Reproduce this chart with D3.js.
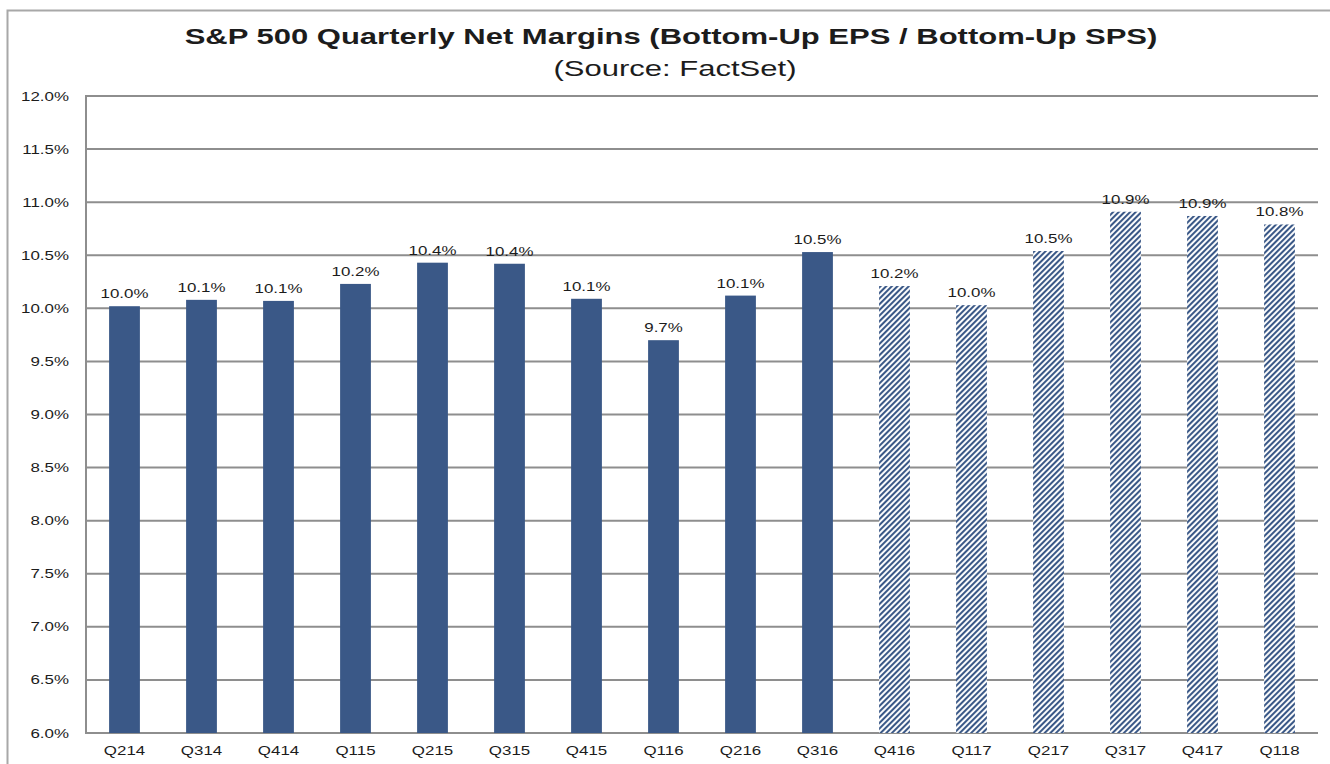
<!DOCTYPE html>
<html>
<head>
<meta charset="utf-8">
<script src="https://cdn.jsdelivr.net/npm/d3@7/dist/d3.min.js"></script>
<style>
  html, body { margin: 0; padding: 0; background: #fff; }
  svg { display: block; }
  text { font-family: "Liberation Sans", Arial, sans-serif; fill: #1c1c1c; }
</style>
</head>
<body>
<svg id="chart" width="1330" height="764"></svg>
<script>
// Quarterly net margins (%), actual quarters then estimates
const quarters = ["Q214", "Q314", "Q414", "Q115", "Q215", "Q315", "Q415", "Q116",
                  "Q216", "Q316", "Q416", "Q117", "Q217", "Q317", "Q417", "Q118"];
const margins = [10.02, 10.08, 10.07, 10.23, 10.43, 10.42, 10.09, 9.70,
                 10.12, 10.53, 10.21, 10.03, 10.54, 10.91, 10.87, 10.79];
const estimated = [false, false, false, false, false, false, false, false,
                   false, false, true, true, true, true, true, true];
const yTicks = [6.0, 6.5, 7.0, 7.5, 8.0, 8.5, 9.0, 9.5, 10.0, 10.5, 11.0, 11.5, 12.0];
const titleText = "S&P 500 Quarterly Net Margins (Bottom-Up EPS / Bottom-Up SPS)";
const subtitleText = "(Source: FactSet)";

const svg = d3.select("#chart");
const W = 1330, H = 764;
const plot = { left: 86, right: 1318, top: 96, bottom: 733 };
const barColor = "#3a5887";
const gridColor = "#8e8e8e";
const stretch = 1.41; // text is drawn wide

// hatch for estimated quarters
const defs = svg.append("defs");
const pat = defs.append("pattern")
  .attr("id", "hatch")
  .attr("patternUnits", "userSpaceOnUse")
  .attr("width", 4).attr("height", 4)
  .attr("patternTransform", "rotate(45)");
pat.append("rect").attr("width", 4).attr("height", 4).attr("fill", "#ffffff");
pat.append("line").attr("x1", 1).attr("y1", 0).attr("x2", 1).attr("y2", 4)
  .attr("stroke", barColor).attr("stroke-width", 2.1);

// outer frame
svg.append("rect")
  .attr("x", 7.5).attr("y", 10.5).attr("width", W + 20).attr("height", H + 20)
  .attr("fill", "none").attr("stroke", "#a8a8a8").attr("stroke-width", 2);

function wideText(x, y, str, anchor, size, weight) {
  const g = svg.append("g").attr("transform", `translate(${x},${y}) scale(${stretch},1)`);
  return g.append("text")
    .attr("text-anchor", anchor)
    .attr("font-size", size)
    .attr("font-weight", weight || "normal")
    .text(str);
}

wideText(671, 44, titleText, "middle", 22, "bold");
wideText(675, 76, subtitleText, "middle", 22, "normal");

const x = d3.scaleBand().domain(quarters).range([plot.left, plot.right])
  .paddingInner(0.6).paddingOuter(0.3);
const y = d3.scaleLinear().domain([6, 12]).range([plot.bottom, plot.top]);

// horizontal gridlines
svg.append("g").selectAll("line").data(yTicks).join("line")
  .attr("x1", plot.left).attr("x2", plot.right)
  .attr("y1", d => y(d)).attr("y2", d => y(d))
  .attr("stroke", gridColor).attr("stroke-width", 2);

// left axis line
svg.append("line")
  .attr("x1", plot.left).attr("x2", plot.left)
  .attr("y1", y(12) - 1).attr("y2", y(6) + 1)
  .attr("stroke", gridColor).attr("stroke-width", 2);

// y tick labels
yTicks.forEach(t => {
  wideText(69, y(t) + 4.5, t.toFixed(1) + "%", "end", 12);
});

// bars
svg.append("g").selectAll("rect").data(quarters).join("rect")
  .attr("x", d => x(d))
  .attr("width", x.bandwidth())
  .attr("y", (d, i) => y(margins[i]))
  .attr("height", (d, i) => y(6) - y(margins[i]))
  .attr("fill", (d, i) => estimated[i] ? "url(#hatch)" : barColor);

// value labels
quarters.forEach((q, i) => {
  wideText(x(q) + x.bandwidth() / 2, y(margins[i]) - 8, margins[i].toFixed(1) + "%", "middle", 12);
});

// category labels
quarters.forEach(q => {
  wideText(x(q) + x.bandwidth() / 2, 755, q, "middle", 12);
});
</script>
</body>
</html>
